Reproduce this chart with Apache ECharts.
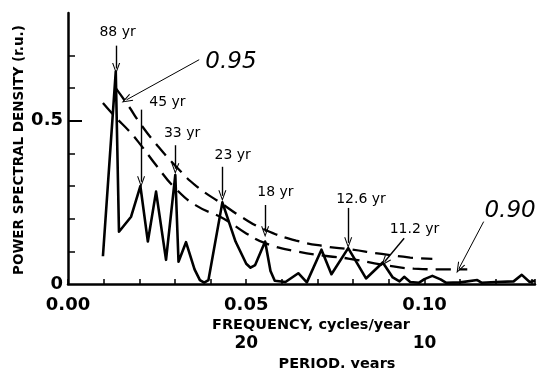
<!DOCTYPE html>
<html>
<head>
<meta charset="utf-8">
<script src="https://cdn.jsdelivr.net/npm/echarts@6/dist/echarts.min.js"></script>
<style>
  html, body { margin: 0; padding: 0; background: #fff; }
  #main { width: 538px; height: 368px; }
</style>
</head>
<body>
<div id="main"></div>
<script>
// spectrum (frequency, cycles/year  ->  power spectral density, r.u.)
const specFreq = [0.0098, 0.0134, 0.0143, 0.0177, 0.0203, 0.0224, 0.0247, 0.0275, 0.0301, 0.0310,
  0.0331, 0.0355, 0.0370, 0.0382, 0.0394, 0.0433, 0.0470, 0.0500, 0.0512, 0.0525, 0.0553, 0.0568,
  0.0580, 0.0610, 0.0646, 0.0670, 0.0711, 0.0739, 0.0786, 0.0836, 0.0883, 0.0911, 0.0930, 0.0943,
  0.0960, 0.0985, 0.1000, 0.1022, 0.1045, 0.1060, 0.1100, 0.1148, 0.1160, 0.1200, 0.1250, 0.1273,
  0.1295, 0.1310];
const specPsd = [0.085, 0.651, 0.160, 0.206, 0.300, 0.130, 0.283, 0.074, 0.334, 0.068,
  0.128, 0.045, 0.012, 0.004, 0.012, 0.250, 0.130, 0.062, 0.050, 0.058, 0.130, 0.040,
  0.010, 0.006, 0.033, 0.005, 0.105, 0.030, 0.110, 0.017, 0.066, 0.020, 0.008, 0.022,
  0.006, 0.004, 0.015, 0.025, 0.014, 0.004, 0.005, 0.012, 0.004, 0.006, 0.008, 0.028,
  0.006, 0.010];

// confidence levels
const c95Freq = [0.0134, 0.0170, 0.0201, 0.0250, 0.0303, 0.0360, 0.0433, 0.0490, 0.0553, 0.0640, 0.0730, 0.0786, 0.0880, 0.0960, 0.1022];
const c95Psd  = [0.600, 0.545, 0.494, 0.425, 0.360, 0.300, 0.245, 0.203, 0.166, 0.133, 0.114, 0.107, 0.092, 0.081, 0.077];
const c90Freq = [0.0098, 0.0134, 0.0170, 0.0201, 0.0250, 0.0301, 0.0360, 0.0437, 0.0500, 0.0553, 0.0640, 0.0730, 0.0786, 0.0888, 0.0970, 0.1040, 0.1120];
const c90Psd  = [0.554, 0.510, 0.470, 0.430, 0.360, 0.293, 0.240, 0.200, 0.155, 0.125, 0.100, 0.085, 0.078, 0.058, 0.047, 0.045, 0.045];

// peak annotations: label, arrow start [f, p], arrow tip [f, p], text position [f, p]
const peakLabels = ['88 yr', '45 yr', '33 yr', '23 yr', '18 yr', '12.6 yr', '11.2 yr'];
const peakFrom = [[0.0135, 0.730], [0.0205, 0.534], [0.0301, 0.425], [0.0433, 0.359], [0.0553, 0.242], [0.0786, 0.233], [0.0943, 0.140]];
const peakTo   = [[0.0135, 0.660], [0.0205, 0.313], [0.0301, 0.353], [0.0433, 0.270], [0.0553, 0.160], [0.0786, 0.126], [0.0888, 0.068]];
const peakText = [[0.0139, 0.770], [0.0279, 0.555], [0.0320, 0.460], [0.0462, 0.393], [0.0582, 0.282], [0.0822, 0.258], [0.0972, 0.166]];

const levelLabels = ['0.95', '0.90'];
const levelFrom = [[0.0368, 0.687], [0.1166, 0.191]];
const levelTo   = [[0.0164, 0.564], [0.1097, 0.048]];
const levelText = [[0.0457, 0.680], [0.1240, 0.222]];

// tick labels
const xLabels = {0: '0.00', 0.05: '0.05', 0.1: '0.10'};
const periodLabels = {0.05: '20', 0.1: '10'};
const yTicks = [0.1, 0.2, 0.3, 0.4, 0.6, 0.7];
const yMajorTicks = [0.5];

const FONT = '"DejaVu Sans", Verdana, sans-serif';
const chevron = 'path://M5,0 L10,10 L8.6,10 L5,2.6 L1.4,10 L0,10 Z';

const zip = (a, b) => a.map((v, i) => [v, b[i]]);
const near = (v, t) => Math.abs(v - t) < 1e-6;

const chart = echarts.init(document.getElementById('main'), null, {renderer: 'canvas'});
chart.setOption({
  animation: false,
  backgroundColor: '#fff',
  grid: {left: 68, right: 0, top: 13, bottom: 84},
  xAxis: [{
    type: 'value', min: 0, max: 0.131, interval: 0.01,
    axisLine: {lineStyle: {color: '#000', width: 2.5}},
    axisTick: {inside: true, length: 5, lineStyle: {color: '#000', width: 1.5}},
    splitLine: {show: false},
    axisLabel: {
      margin: 12, color: '#000', fontFamily: FONT, fontWeight: 'bold', fontSize: 18,
      formatter: v => { for (const k in xLabels) if (near(v, +k)) return xLabels[k]; return ''; }
    }
  }, {
    type: 'value', min: 0, max: 0.131, interval: 0.05, position: 'bottom', offset: 51,
    axisLine: {show: false}, axisTick: {show: false}, splitLine: {show: false},
    axisLabel: {
      margin: 0, color: '#000', fontFamily: FONT, fontWeight: 'bold', fontSize: 17,
      formatter: v => { for (const k in periodLabels) if (near(v, +k)) return periodLabels[k]; return ''; }
    }
  }],
  yAxis: [{
    type: 'value', min: 0, max: 0.83, interval: 0.1,
    axisLine: {show: true, lineStyle: {color: '#000', width: 2.5}},
    axisTick: {show: true, inside: true, length: 7, customValues: yTicks, lineStyle: {color: '#000', width: 1.5}},
    splitLine: {show: false},
    axisLabel: {
      margin: 5, color: '#000', fontFamily: FONT, fontWeight: 'bold', fontSize: 18,
      formatter: v => near(v, 0) ? '0' : near(v, 0.5) ? '0.5' : ''
    }
  }, {
    type: 'value', min: 0, max: 0.83, interval: 0.1, position: 'left', offset: 0,
    axisLine: {show: false}, axisLabel: {show: false}, splitLine: {show: false},
    axisTick: {show: true, inside: true, length: 14, customValues: yMajorTicks, lineStyle: {color: '#000', width: 2}}
  }],
  graphic: [
    {type: 'text', x: 19, y: 150, rotation: Math.PI / 2,
      style: {text: 'POWER SPECTRAL DENSITY (r.u.)', fill: '#000', font: 'bold 13.5px ' + FONT,
        align: 'center', verticalAlign: 'middle'}},
    {type: 'text', x: 311, y: 325, style: {text: 'FREQUENCY, cycles/year', fill: '#000',
      font: 'bold 14.5px ' + FONT, align: 'center', verticalAlign: 'middle'}},
    {type: 'text', x: 337, y: 364, style: {text: 'PERIOD, years', fill: '#000',
      font: 'bold 14.5px ' + FONT, align: 'center', verticalAlign: 'middle'}}
  ],
  series: [
    {
      name: '0.95', type: 'line', data: zip(c95Freq, c95Psd), smooth: true, showSymbol: false,
      lineStyle: {color: '#000', width: 2.3, type: [15, 8]}, z: 2
    },
    {
      name: '0.90', type: 'line', data: zip(c90Freq, c90Psd), smooth: true, showSymbol: false,
      lineStyle: {color: '#000', width: 2.3, type: [15, 8]}, z: 2
    },
    {
      name: 'PSD', type: 'line', data: zip(specFreq, specPsd), showSymbol: false,
      lineStyle: {color: '#000', width: 2.6, join: 'round'}, z: 3,
      markLine: {
        silent: true, animation: false,
        symbol: ['none', chevron], symbolSize: [8, 11],
        label: {show: false},
        lineStyle: {color: '#000', width: 1.4, type: 'solid'},
        emphasis: {disabled: true},
        data: peakFrom.map((p, i) => [{coord: p}, {coord: peakTo[i]}])
          .concat(levelFrom.map((p, i) => [{coord: p, lineStyle: {width: 1}}, {coord: levelTo[i], lineStyle: {width: 1}}]))
      }
    },
    {
      name: 'peaks', type: 'scatter', symbolSize: 0, silent: true, z: 4,
      itemStyle: {color: '#000', opacity: 1},
      data: peakText.map((p, i) => ({value: p, name: peakLabels[i]})),
      label: {show: true, position: 'inside', formatter: '{b}', color: '#000', textBorderWidth: 0,
        opacity: 1, fontFamily: FONT, fontSize: 14}
    },
    {
      name: 'levels', type: 'scatter', symbolSize: 0, silent: true, z: 4,
      itemStyle: {color: '#000', opacity: 1},
      data: levelText.map((p, i) => ({value: p, name: levelLabels[i]})),
      label: {show: true, position: 'inside', formatter: '{b}', color: '#000', textBorderWidth: 0,
        opacity: 1, fontFamily: FONT, fontSize: 23, fontStyle: 'italic'}
    }
  ]
});
</script>
</body>
</html>
